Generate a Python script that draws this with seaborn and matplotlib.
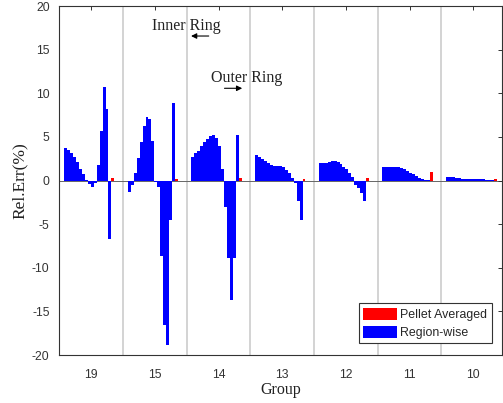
import numpy as np
import pandas as pd
import matplotlib
matplotlib.use("Agg")
import matplotlib.pyplot as plt
import seaborn as sns

# ---- data ----
groups = ["19", "15", "14", "13", "12", "11", "10"]
rw_19 = [3.7, 3.5, 3.2, 2.7, 2.1, 1.3, 0.7, 0.1, -0.4, -0.8, -0.3, 1.8, 5.7, 10.7, 8.2, -6.7]
rw_15 = [-1.3, -0.5, 0.9, 2.6, 4.4, 6.3, 7.3, 7.0, 4.5, -0.2, -0.8, -8.6, -16.6, -18.8, -4.5, 8.9]
rw_14 = [2.7, 3.1, 3.4, 3.9, 4.4, 4.75, 5.1, 5.2, 4.9, 3.9, 1.3, -3.0, -8.9, -13.7, -8.9, 5.2]
rw_13 = [2.95, 2.7, 2.45, 2.2, 2.0, 1.8, 1.7, 1.7, 1.7, 1.6, 1.2, 0.9, 0.3, -0.3, -2.4, -4.5]
rw_12 = [1.95, 2.0, 2.0, 2.1, 2.2, 2.2, 2.1, 1.9, 1.6, 1.3, 0.9, 0.4, -0.5, -0.9, -1.4, -2.4]
rw_11 = [1.5, 1.55, 1.55, 1.55, 1.55, 1.5, 1.4, 1.3, 1.1, 0.9, 0.7, 0.5, 0.3, 0.15, 0.1, 0.1]
rw_10 = [0.4, 0.38, 0.35, 0.3, 0.25, 0.22, 0.2, 0.18, 0.16, 0.15, 0.14, 0.13, 0.12, 0.1, 0.08, 0.05]
region_wise = [rw_19, rw_15, rw_14, rw_13, rw_12, rw_11, rw_10]
pellet_avg = [0.3, 0.2, 0.3, 0.2, 0.3, 1.0, 0.15]
series_names = ["Pellet Averaged", "Region-wise"]
y_ticks = [-20, -15, -10, -5, 0, 5, 10, 15, 20]

# ---- layout of bars inside each group (slots) ----
SLOT = 1 / 21.5
OFFSET = 1.6

rows = []
for gi, vals in enumerate(region_wise):
    left = gi - 0.5
    for k, v in enumerate(vals):
        rows.append((round(left + (OFFSET + k + 0.5) * SLOT, 6), v, series_names[1]))
    rows.append((round(left + (OFFSET + len(vals) + 0.5) * SLOT, 6), pellet_avg[gi], series_names[0]))
df = pd.DataFrame(rows, columns=["pos", "err", "series"])

sns.set_theme(style="white")
plt.rcParams["font.family"] = ["Liberation Sans", "DejaVu Sans"]

fig = plt.figure(figsize=(5.03, 4.03), dpi=100)
ax = fig.add_axes([0.1179, 0.1191, 0.880, 0.866])

for g in range(len(groups) - 1):
    ax.axvline(g + 0.5, color="#c8c8c8", lw=1.1, zorder=0)
ax.axhline(0, color="#666666", lw=0.7, zorder=0.5)

sns.barplot(data=df, x="pos", y="err", hue="series", hue_order=series_names,
            palette={series_names[0]: "#ff0000", series_names[1]: "#0000ff"},
            native_scale=True, dodge=False, width=1.0, saturation=1,
            linewidth=0, errorbar=None, ax=ax, zorder=2)

ax.set_xlim(-0.5, 6.45)
ax.set_ylim(-20, 20)
ax.set_xticks(range(len(groups)))
ax.set_xticklabels(groups)
ax.set_yticks(y_ticks)
ax.set_yticklabels([str(t) for t in y_ticks])
ax.tick_params(direction="in", top=True, right=True, length=3, width=0.7,
               color="#333333", labelsize=8.7, labelcolor="#333333")
ax.tick_params(axis="x", pad=10)
ax.tick_params(axis="y", pad=7)
for s in ax.spines.values():
    s.set_visible(True)
    s.set_color("#333333")
    s.set_linewidth(0.8)

ax.set_xlabel("Group", family=["Liberation Serif"], fontsize=11.5, color="#222222", labelpad=0.5)
ax.set_ylabel("Rel.Err(%)", family=["Liberation Serif"], fontsize=12.5, color="#222222", labelpad=3)

ax.text(1.5, 17.7, "Inner Ring", ha="center", va="center",
        family=["Liberation Serif"], fontsize=11.5, color="#222222")
ax.annotate("", xy=(1.525, 16.56), xytext=(1.89, 16.56),
            arrowprops=dict(arrowstyle="-|>", color="black", lw=0.8, mutation_scale=8))
ax.text(2.44, 11.8, "Outer Ring", ha="center", va="center",
        family=["Liberation Serif"], fontsize=11.5, color="#222222")
ax.annotate("", xy=(2.415, 10.57), xytext=(2.05, 10.57),
            arrowprops=dict(arrowstyle="-|>", color="black", lw=0.8, mutation_scale=8))

leg = ax.legend(loc="lower right", bbox_to_anchor=(0.977, 0.0335), borderaxespad=0,
                fontsize=8.9, handlelength=2.7, handleheight=1.1, handletextpad=0.3,
                labelspacing=0.4, borderpad=0.35, fancybox=False, framealpha=1,
                edgecolor="#333333", title=None)
leg.get_frame().set_linewidth(0.8)

fig.savefig("out.png", dpi=100)
